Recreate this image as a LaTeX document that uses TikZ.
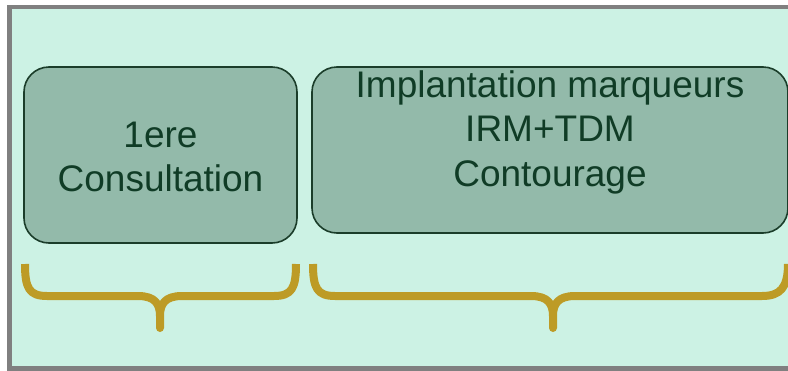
\documentclass[tikz,border=0pt]{standalone}
\usepackage{fontspec}
\setmainfont{Liberation Sans}
\usepackage{xcolor}
\usepackage{tikz}

\definecolor{bgmint}{RGB}{204,242,228}
\definecolor{boxgreen}{RGB}{147,186,170}
\definecolor{boxline}{RGB}{27,61,42}
\definecolor{txtgreen}{RGB}{16,60,38}
\definecolor{bracegold}{RGB}{189,155,38}
\definecolor{framegray}{RGB}{128,128,128}

\tikzset{
	stage/.style={draw=boxline,fill=boxgreen,line width=1.6pt,rounded corners=25pt,inner sep=0pt},
	stagetext/.style={text=txtgreen,align=center,inner sep=0pt,font=\fontsize{37}{44.5}\selectfont},
	brace/.style={draw=bracegold,line width=8pt,line cap=butt,line join=round}
}

\begin{document}
\begin{tikzpicture}[x=1pt,y=-1pt]
	\useasboundingbox (0,0) rectangle (788,370);
	\draw[framegray,line width=4.5pt,fill=bgmint] (9.5,7) rectangle (800,368.5);
	
	\node[stage,minimum width=273pt,minimum height=176pt] (consult) at (160.5,155) {};
	\node[stagetext] (consultlbl) at ([yshift=-2pt]consult.center) {1ere\\Consultation};
	
	\node[stage,minimum width=476pt,minimum height=166pt] (implant) at (550,150) {};
	\node[stagetext,anchor=north] (implantlbl) at ([yshift=-4pt]implant.north) {Implantation marqueurs\\IRM+TDM\\Contourage};
	
	% accolades
	\draw[brace] (25,264) .. controls (25,288) and (29,296) .. (47,296) -- (138,296)
		.. controls (155,296) and (160,304) .. (160,316) -- (160,328)
		-- (160,316) .. controls (160,304) and (165,296) .. (182,296) -- (274,296)
		.. controls (292,296) and (296,288) .. (296,264);
	\draw[brace] (313,264) .. controls (313,288) and (317,296) .. (335,296) -- (531,296)
		.. controls (548,296) and (553,304) .. (553,316) -- (553,328)
		-- (553,316) .. controls (553,304) and (558,296) .. (575,296) -- (762,296)
		.. controls (780,296) and (788,288) .. (788,264);
\end{tikzpicture}
\end{document}
